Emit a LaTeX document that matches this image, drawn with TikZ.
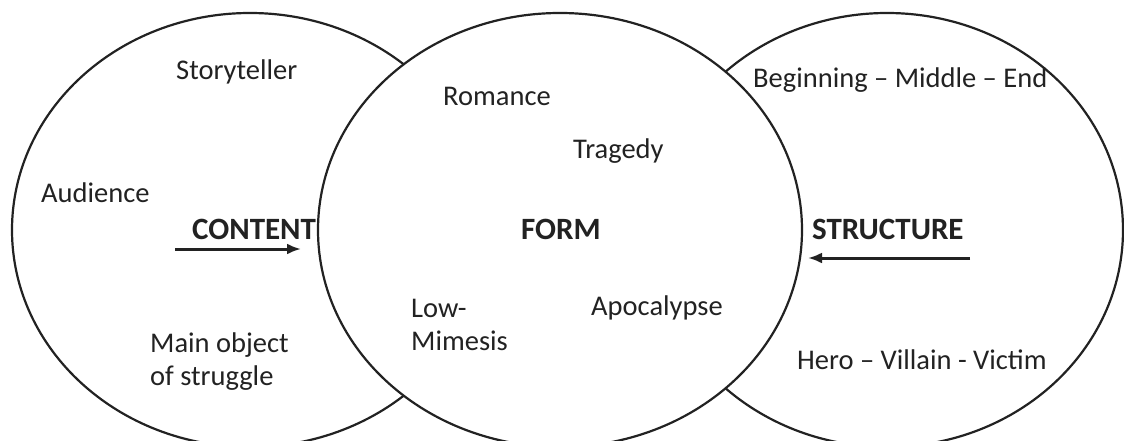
\documentclass[tikz,border=0pt]{standalone}
\usepackage{fontspec}
\setmainfont{Carlito}
\usetikzlibrary{shapes.geometric,arrows.meta}
\definecolor{ink}{HTML}{222222}
\begin{document}
\begin{tikzpicture}[x=1pt,y=-1pt,
  circ/.style={ellipse,draw=ink,line width=2.2pt,inner sep=0pt,outer sep=0pt,fill=white},
  lbl/.style={inner sep=0pt,text=ink,font=\fontsize{28.5}{33}\selectfont,anchor=base west},
  head/.style={lbl,font=\fontsize{31}{33}\selectfont\bfseries},
  arr/.style={-{Latex[length=14pt,width=11pt]},line width=3pt,draw=ink}]
\useasboundingbox (0,0) rectangle (1124,441);
\node[circ,minimum width=476pt,minimum height=434pt] (content) at (250,230) {};
\node[circ,minimum width=472pt,minimum height=434pt] (structure) at (887,230) {};
\node[circ,minimum width=484pt,minimum height=434pt] (form) at (560,230) {};
% left
\node[lbl] (story) at (176,80) {Storyteller};
\node[lbl] (aud) at (41,202) {Audience};
\node[head] (cont) at (192,239) {CONTENT};
\node[lbl,align=left] (mainobj) at (150,385) {Main object\\of struggle};
\coordinate (ca) at (175,249);
\coordinate (cb) at (301,249);
\draw[arr] (ca) -- (cb);
% middle
\node[lbl] (rom) at (443,106) {Romance};
\node[lbl] (trag) at (573,158) {Tragedy};
\node[head] (formlbl) at (521,239) {FORM};
\node[lbl,align=left] (low) at (411,350) {Low-\\Mimesis};
\node[lbl] (apoc) at (591,315) {Apocalypse};
% right
\node[lbl] (bme) at (753,88) {Beginning – Middle – End};
\node[head] (struct) at (812,239) {STRUCTURE};
\node[lbl] (hvv) at (797,369) {Hero – Villain - Victim};
\coordinate (sa) at (970,258);
\coordinate (sb) at (808,258);
\draw[arr] (sa) -- (sb);
\end{tikzpicture}
\end{document}
